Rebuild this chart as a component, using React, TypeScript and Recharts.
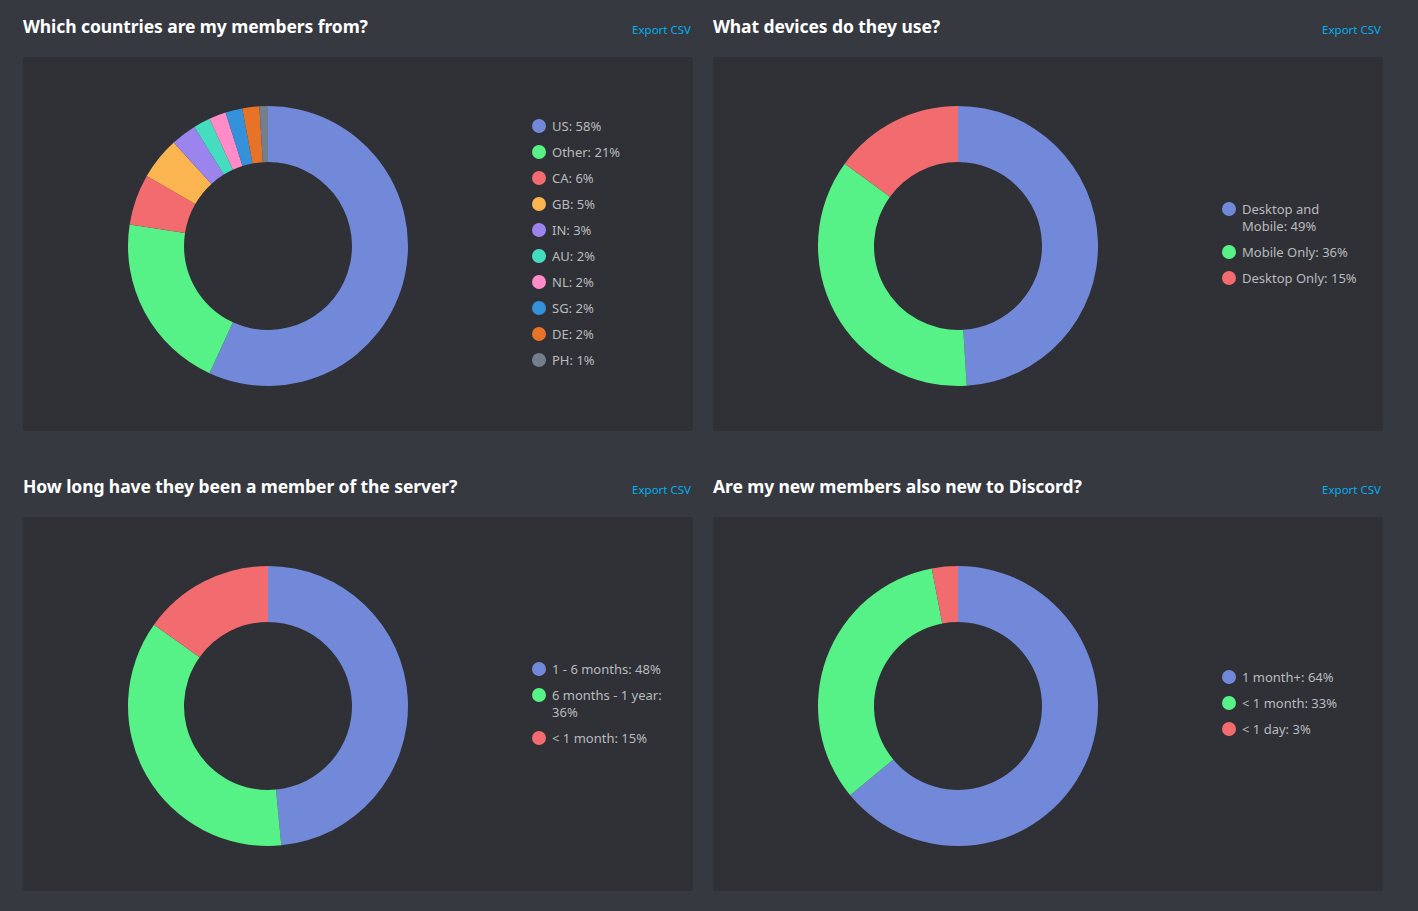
import type { FC } from 'react';
import { PieChart, Pie, Cell } from 'recharts';

type Slice = { name: string; value: number };

const BLUE = '#7289da';
const GREEN = '#57f287';
const RED = '#f26b6f';

const countries: Slice[] = [
    { name: 'US', value: 58 },
    { name: 'Other', value: 21 },
    { name: 'CA', value: 6 },
    { name: 'GB', value: 5 },
    { name: 'IN', value: 3 },
    { name: 'AU', value: 2 },
    { name: 'NL', value: 2 },
    { name: 'SG', value: 2 },
    { name: 'DE', value: 2 },
    { name: 'PH', value: 1 },
];
const countryColors = [BLUE, GREEN, RED, '#fbb550', '#9b84ee', '#45ddc0', '#ff8bc8', '#3492db', '#e67328', '#747f8d'];

const devices: Slice[] = [
    { name: 'Desktop and Mobile', value: 49 },
    { name: 'Mobile Only', value: 36 },
    { name: 'Desktop Only', value: 15 },
];

const tenure: Slice[] = [
    { name: '1 - 6 months', value: 48 },
    { name: '6 months - 1 year', value: 36 },
    { name: '< 1 month', value: 15 },
];

const accountAge: Slice[] = [
    { name: '1 month+', value: 64 },
    { name: '< 1 month', value: 33 },
    { name: '< 1 day', value: 3 },
];

const threeColors = [BLUE, GREEN, RED];

interface DonutPanelProps {
    title: string;
    data: Slice[];
    colors: string[];
    left: number;
    top: number;
}

const font = '"Noto Sans", "Open Sans", sans-serif';

const DonutPanel: FC<DonutPanelProps> = ({ title, data, colors, left, top }) => {
    return (
        <div style={{ position: 'absolute', left, top, width: 670 }}>
            <div style={{ height: 46, position: 'relative' }}>
                <div style={{ position: 'absolute', left: 0, top: 14, color: '#ffffff', fontSize: 17.5, fontWeight: 700, fontFamily: font, letterSpacing: '-0.005em' }}>{title}</div>
                <div style={{ position: 'absolute', right: 2, top: 22, color: '#00aff4', fontSize: 11.5, fontFamily: font }}>Export CSV</div>
            </div>
            <div style={{ position: 'relative', width: 670, height: 374, background: '#2f3136', borderRadius: 3, marginTop: 11 }}>
                <PieChart width={490} height={374} margin={{ top: 0, right: 0, bottom: 0, left: 0 }}>
                    <Pie
                        data={data}
                        dataKey="value"
                        nameKey="name"
                        cx={245}
                        cy={189}
                        innerRadius={84}
                        outerRadius={140}
                        startAngle={90}
                        endAngle={-270}
                        stroke="none"
                        isAnimationActive={false}
                    >
                        {data.map((d, i) => (
                            <Cell key={d.name} fill={colors[i]} />
                        ))}
                    </Pie>
                </PieChart>
                <div style={{ position: 'absolute', left: 509, top: 0, height: 374, display: 'flex', flexDirection: 'column', justifyContent: 'center', paddingTop: 8, boxSizing: 'border-box' }}>
                    {data.map((d, i) => (
                        <div key={d.name} style={{ display: 'flex', alignItems: 'flex-start', marginBottom: 9 }}>
                            <span style={{ width: 14, height: 14, borderRadius: 7, background: colors[i], marginTop: 1, marginRight: 6, flexShrink: 0 }} />
                            <span style={{ width: 118, color: '#b9bbbe', fontSize: 13, lineHeight: '17px', fontFamily: font }}>
                                {d.name}: {d.value}%
                            </span>
                        </div>
                    ))}
                </div>
            </div>
        </div>
    );
};

const App: FC = () => {
    return (
        <div style={{ position: 'relative', width: 1418, height: 911, background: '#36393f', overflow: 'hidden' }}>
            <style>{`body{margin:0;background:#36393f}`}</style>
            <DonutPanel title="Which countries are my members from?" data={countries} colors={countryColors} left={23} top={0} />
            <DonutPanel title="What devices do they use?" data={devices} colors={threeColors} left={713} top={0} />
            <DonutPanel title="How long have they been a member of the server?" data={tenure} colors={threeColors} left={23} top={460} />
            <DonutPanel title="Are my new members also new to Discord?" data={accountAge} colors={threeColors} left={713} top={460} />
        </div>
    );
};

export default App;
